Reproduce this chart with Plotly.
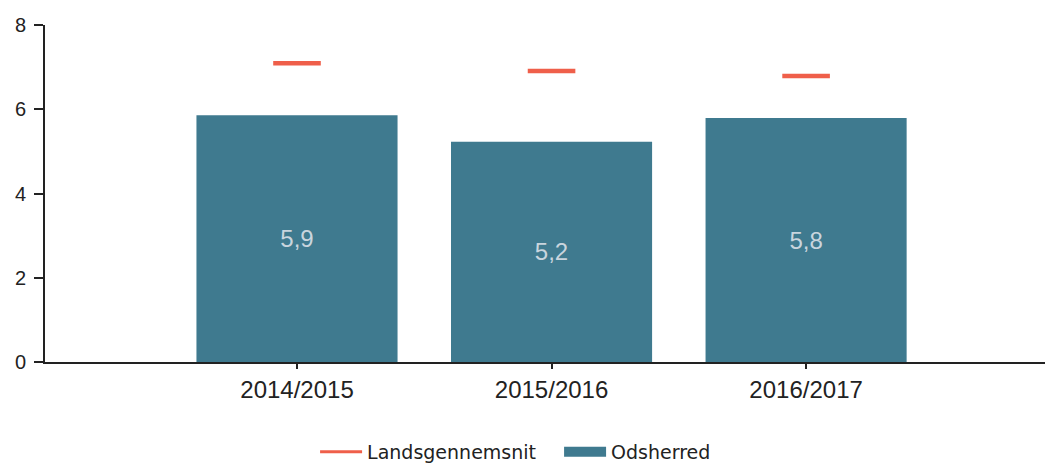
import plotly.graph_objects as go

categories = ["2014/2015", "2015/2016", "2016/2017"]
odsherred = [5.86, 5.23, 5.79]
landsgennemsnit = [7.09, 6.91, 6.79]
y_ticks = [0, 2, 4, 6, 8]

BAR_COLOR = "#3f7a8f"
AVG_COLOR = "#ef5f4a"

fig = go.Figure()
fig.add_trace(go.Scatter(
    x=categories, y=landsgennemsnit, name="Landsgennemsnit",
    mode="markers", showlegend=False,
    marker=dict(symbol="line-ew", size=34, line=dict(width=4.5, color=AVG_COLOR), color=AVG_COLOR),
))
fig.add_trace(go.Bar(
    x=categories, y=odsherred, name="Odsherred", showlegend=False,
    marker=dict(color=BAR_COLOR, line=dict(width=0)),
    width=0.79,
    texttemplate="%{y:.1f}", textposition="inside", insidetextanchor="middle",
    textfont=dict(color="#c9d5de", size=24, family="Liberation Sans"),
))
# legend entries
fig.add_trace(go.Scatter(x=[None], y=[None], mode="lines", name="Landsgennemsnit",
                         line=dict(color=AVG_COLOR, width=3)))
fig.add_trace(go.Scatter(x=[None], y=[None], mode="lines", name="Odsherred",
                         line=dict(color=BAR_COLOR, width=12)))

# the page body has an 8px margin; the figure is sized so it ends at the window edge
fig.update_layout(
    width=1045, height=457,
    margin=dict(l=37, r=0, t=17, b=103, autoexpand=False),
    plot_bgcolor="white", paper_bgcolor="white",
    separators=",.",
    font=dict(family="Liberation Sans", color="#222222", size=20),
    showlegend=True,
    legend=dict(orientation="h", x=0.51, xanchor="center", y=-0.267, yanchor="middle",
                itemwidth=42, entrywidth=187,
                font=dict(size=19, family="DejaVu Sans", color="#222222"), traceorder="normal"),
)
fig.update_xaxes(
    type="category", range=[-0.99, 2.97], automargin=False,
    showline=True, linecolor="#222222", linewidth=2,
    ticks="outside", ticklen=5, tickcolor="#222222", tickwidth=2,
    showgrid=False, tickfont=dict(size=24, family="Liberation Sans"),
)
fig.update_yaxes(
    range=[0, 8], tickvals=y_ticks, automargin=False,
    showline=True, linecolor="#222222", linewidth=2,
    ticks="outside", ticklen=9, tickcolor="#222222", tickwidth=1.5,
    ticklabelstandoff=4,
    showgrid=False, zeroline=False, tickfont=dict(size=20, family="Liberation Sans"),
)
fig.write_html("out.html")
